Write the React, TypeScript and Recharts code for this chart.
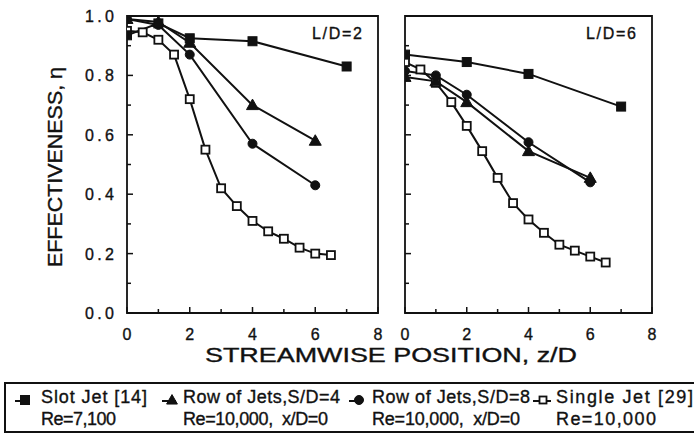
import React from "react";
import { LineChart, Line, XAxis, YAxis, ReferenceArea } from "recharts";

// Streamwise positions z/D and effectiveness values for each configuration
const slotZ2 = [0, 1, 2, 4, 7];
const slotEta2 = [0.935, 0.975, 0.925, 0.915, 0.83];
const rowS4Z2 = [0, 1, 2, 4, 6];
const rowS4Eta2 = [0.99, 0.98, 0.91, 0.7, 0.58];
const rowS8Z2 = [0, 1, 2, 4, 6];
const rowS8Eta2 = [0.99, 0.97, 0.87, 0.57, 0.43];
const singleZ2 = [0, 0.5, 1, 1.5, 2, 2.5, 3, 3.5, 4, 4.5, 5, 5.5, 6, 6.5];
const singleEta2 = [0.95, 0.945, 0.92, 0.87, 0.72, 0.55, 0.42, 0.36, 0.31, 0.275, 0.25, 0.22, 0.2, 0.195];

const slotZ6 = [0, 2, 4, 7];
const slotEta6 = [0.87, 0.845, 0.805, 0.695];
const rowS4Z6 = [0, 1, 2, 4, 6];
const rowS4Eta6 = [0.795, 0.78, 0.71, 0.545, 0.455];
const rowS8Z6 = [0, 1, 2, 4, 6];
const rowS8Eta6 = [0.815, 0.8, 0.735, 0.575, 0.44];
const singleZ6 = [0, 0.5, 1, 1.5, 2, 2.5, 3, 3.5, 4, 4.5, 5, 5.5, 6, 6.5];
const singleEta6 = [0.845, 0.82, 0.775, 0.71, 0.63, 0.545, 0.455, 0.37, 0.315, 0.27, 0.23, 0.21, 0.19, 0.17];

const xTicks = [0, 1, 2, 3, 4, 5, 6, 7, 8];
const yTicks = [0, 0.1, 0.2, 0.3, 0.4, 0.5, 0.6, 0.7, 0.8, 0.9, 1.0];

const panelTitles = ["L/D=2", "L/D=6"];
const yLabel = "EFFECTIVENESS, \u03B7";
const xLabel = "STREAMWISE POSITION, z/D";
const legendMarkers = ["fsquare", "triangle", "circle", "osquare"];
const legendLine1 = ["Slot Jet [14]", "Row of Jets,S/D=4", "Row of Jets,S/D=8", "Single Jet [29]"];
const legendLine2 = ["Re=7,100", "Re=10,000,  x/D=0", "Re=10,000,  x/D=0", "Re=10,000"];

const FONT = "'Liberation Sans', Arial, Helvetica, sans-serif";
const INK = "#111";

const toRows = (zs: number[], etas: number[]) => zs.map((z, i) => ({ z, eta: etas[i] }));

function markerShape(kind: string, cx: number, cy: number, s: number, key?: any) {
  if (kind === "fsquare")
    return <rect key={key} x={cx - s / 2} y={cy - s / 2} width={s} height={s} fill={INK} stroke={INK} strokeWidth={1} />;
  if (kind === "osquare")
    return (
      <rect key={key} x={cx - s / 2 + 0.5} y={cy - s / 2 + 0.5} width={s - 1} height={s - 1} fill="#fff" stroke={INK} strokeWidth={1.8} />
    );
  if (kind === "triangle")
    return (
      <polygon
        key={key}
        points={`${cx},${cy - s * 0.6} ${cx + s * 0.6},${cy + s * 0.45} ${cx - s * 0.6},${cy + s * 0.45}`}
        fill={INK}
        stroke={INK}
        strokeWidth={1}
      />
    );
  return <circle key={key} cx={cx} cy={cy} r={s / 2} fill={INK} stroke={INK} strokeWidth={1} />;
}

const makeDot = (kind: string, s: number) => (p: any) => {
  if (p.cx == null || p.cy == null) return <g key={p.key ?? p.index} />;
  return markerShape(kind, p.cx, p.cy, s, p.key ?? `${kind}-${p.index}`);
};

const textStyle = { fontFamily: FONT, fill: INK, stroke: INK, strokeWidth: 0.35 } as const;

const YTick = (showLabel: boolean) => (p: any) => {
  const v = p.payload.value;
  const major = Math.round(v * 10) % 2 === 0;
  return (
    <g>
      <line x1={p.x} x2={p.x + (major ? 6 : 4)} y1={p.y} y2={p.y} stroke={INK} strokeWidth={1.5} />
      {showLabel && major && (
        <text x={p.x - 42} y={p.y} dy={6} fontSize={16} textLength={29} lengthAdjust="spacing" {...textStyle}>
          {v.toFixed(1)}
        </text>
      )}
    </g>
  );
};

const XTick = (p: any) => {
  const v = p.payload.value;
  const major = v % 2 === 0;
  return (
    <g>
      <line x1={p.x} x2={p.x} y1={p.y} y2={p.y - (major ? 6 : 4)} stroke={INK} strokeWidth={1.5} />
      {major && (
        <text x={p.x} y={p.y} dy={27} textAnchor="middle" fontSize={16} {...textStyle}>
          {v}
        </text>
      )}
    </g>
  );
};

type Series = { kind: string; zs: number[]; etas: number[]; size: number };

function Panel({
  series,
  title,
  left,
  width,
  yAxisWidth,
  marginRight,
  showYLabels,
}: {
  series: Series[];
  title: string;
  left: number;
  width: number;
  yAxisWidth: number;
  marginRight: number;
  showYLabels: boolean;
}) {
  return (
    <div style={{ position: "absolute", left, top: 0 }}>
      <LineChart width={width} height={345} margin={{ top: 16, right: marginRight, bottom: 2, left: 0 }}>
        <XAxis
          dataKey="z"
          type="number"
          domain={[0, 8]}
          ticks={xTicks}
          interval={0}
          allowDataOverflow
          axisLine={false}
          tickLine={false}
          tickSize={0}
          tickMargin={0}
          height={30}
          tick={XTick}
        />
        <YAxis
          type="number"
          domain={[0, 1]}
          ticks={yTicks}
          interval={0}
          allowDataOverflow
          axisLine={false}
          tickLine={false}
          tickSize={0}
          tickMargin={0}
          width={yAxisWidth}
          tick={YTick(showYLabels)}
        />
        <ReferenceArea x1={0} x2={8} y1={0} y2={1} fill="none" stroke={INK} strokeWidth={1.8} ifOverflow="visible" />
        {series.map((s) => (
          <Line
            key={s.kind}
            data={toRows(s.zs, s.etas)}
            dataKey="eta"
            type="linear"
            stroke={INK}
            strokeWidth={2}
            dot={makeDot(s.kind, s.size)}
            activeDot={false}
            isAnimationActive={false}
          />
        ))}
      </LineChart>
      <svg width={80} height={30} style={{ position: "absolute", left: width - marginRight - 66, top: 20 }}>
        <text x={0} y={19} fontSize={16} textLength={50} lengthAdjust="spacing" {...textStyle}>
          {title}
        </text>
      </svg>
    </div>
  );
}

// Legend layout: marker centre, text start and text spans for each entry
const legendMarkerX = [25, 172, 359, 543];
const legendTextX = [41, 183, 372, 556];
const legendLen1 = [106, 157, 158, 137];
const legendLen2 = [75, 145, 148, 100];

function Legend() {
  return (
    <svg width={694} height={60} style={{ position: "absolute", left: 0, top: 379 }}>
      <rect x={5} y={4} width={700} height={49} fill="none" stroke={INK} strokeWidth={2} />
      {legendMarkers.map((kind, i) => (
        <g key={kind}>
          <line
            x1={legendMarkerX[i] - 10}
            x2={legendMarkerX[i] + (kind === "osquare" ? 8 : 4)}
            y1={22}
            y2={22}
            stroke={INK}
            strokeWidth={2}
          />
          {markerShape(kind, legendMarkerX[i], 21, kind === "osquare" ? 8 : 9)}
          <text x={legendTextX[i]} y={24} fontSize={18} textLength={legendLen1[i]} lengthAdjust="spacing" {...textStyle}>
            {legendLine1[i]}
          </text>
          <text x={legendTextX[i]} y={46} fontSize={18} textLength={legendLen2[i]} lengthAdjust="spacing" xmlSpace="preserve" {...textStyle}>
            {legendLine2[i]}
          </text>
        </g>
      ))}
    </svg>
  );
}

export default function App() {
  const leftSeries: Series[] = [
    { kind: "osquare", zs: singleZ2, etas: singleEta2, size: 9 },
    { kind: "circle", zs: rowS8Z2, etas: rowS8Eta2, size: 9 },
    { kind: "triangle", zs: rowS4Z2, etas: rowS4Eta2, size: 10 },
    { kind: "fsquare", zs: slotZ2, etas: slotEta2, size: 9 },
  ];
  const rightSeries: Series[] = [
    { kind: "osquare", zs: singleZ6, etas: singleEta6, size: 9 },
    { kind: "triangle", zs: rowS4Z6, etas: rowS4Eta6, size: 10 },
    { kind: "circle", zs: rowS8Z6, etas: rowS8Eta6, size: 9 },
    { kind: "fsquare", zs: slotZ6, etas: slotEta6, size: 9 },
  ];

  return (
    <div style={{ position: "absolute", left: 0, top: 0, width: 694, height: 439, background: "#fff", overflow: "hidden" }}>
      <Panel series={leftSeries} title={panelTitles[0]} left={0} width={390} yAxisWidth={127} marginRight={12} showYLabels />
      <Panel series={rightSeries} title={panelTitles[1]} left={390} width={300} yAxisWidth={15} marginRight={38} showYLabels={false} />
      <svg width={694} height={439} style={{ position: "absolute", left: 0, top: 0, pointerEvents: "none" }}>
        <text
          transform="translate(62,167) rotate(-90)"
          textAnchor="middle"
          fontSize={20}
          textLength={200}
          lengthAdjust="spacingAndGlyphs"
          {...textStyle}
        >
          {yLabel}
        </text>
        <text x={391} y={362} textAnchor="middle" fontSize={20} textLength={372} lengthAdjust="spacingAndGlyphs" {...textStyle}>
          {xLabel}
        </text>
      </svg>
      <Legend />
    </div>
  );
}
